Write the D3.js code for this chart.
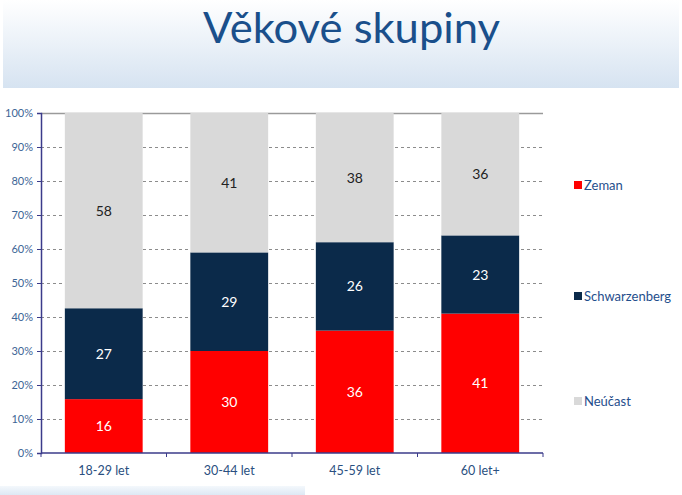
<!DOCTYPE html>
<html><head><meta charset="utf-8">
<script src="https://cdn.jsdelivr.net/npm/d3@7"></script>
<style>body{margin:0;background:#fff}svg{display:block}</style>
</head><body>
<script>
const categories = ["18-29 let","30-44 let","45-59 let","60 let+"];
const seriesNames = ["Zeman","Schwarzenberg","Neúčast"];
const zeman = [16,30,36,41];
const schwarzenberg = [27,29,26,23];
const neucast = [58,41,38,36];
const yTicks = [0,10,20,30,40,50,60,70,80,90,100];
const colors = ["#ff0000","#0b2a4a","#d9d9d9"];
const labelColors = ["#ffffff","#ffffff","#222222"];

const W=682,H=495;
const svg=d3.select("body").append("svg").attr("width",W).attr("height",H);
const defs=svg.append("defs");
const g1=defs.append("linearGradient").attr("id","tg").attr("x1",0).attr("y1",0).attr("x2",0).attr("y2",1);
g1.append("stop").attr("offset","0%").attr("stop-color","#ffffff");
g1.append("stop").attr("offset","100%").attr("stop-color","#d6e3f1");
svg.append("rect").attr("x",3).attr("y",0).attr("width",676).attr("height",88).attr("fill","url(#tg)");
const g2=defs.append("linearGradient").attr("id","bg").attr("x1",0).attr("y1",0).attr("x2",0).attr("y2",1);
g2.append("stop").attr("offset","0%").attr("stop-color","#f4f8fc");
g2.append("stop").attr("offset","100%").attr("stop-color","#dde8f4");
svg.append("rect").attr("x",0).attr("y",486).attr("width",305).attr("height",9).attr("fill","url(#bg)");

svg.append("text").attr("x",203).attr("y",43)
 .attr("font-family","Lato, 'Open Sans', sans-serif").attr("font-size",42).attr("fill","#1a4f8b")
 .attr("textLength",297).attr("lengthAdjust","spacingAndGlyphs")
 .text("Věkové skupiny");

const x0=41,x1=543,yTop=113,yBot=453;
const x=d3.scaleBand().domain(categories).range([x0,x1]).paddingInner(0.38).paddingOuter(0.19);
const y=d3.scaleLinear().domain([0,100]).range([yBot,yTop]);

// gridlines
svg.append("g").selectAll("line").data(yTicks.filter(t=>t>0&&t<100)).join("line")
 .attr("x1",x0).attr("x2",x1).attr("y1",d=>y(d)+0.5).attr("y2",d=>y(d)+0.5)
 .attr("stroke","#8c8c8c").attr("stroke-dasharray","3,3").attr("stroke-width",1);
svg.append("line").attr("x1",x0).attr("x2",x1).attr("y1",y(100)+0.5).attr("y2",y(100)+0.5)
 .attr("stroke","#9a9a9a").attr("stroke-width",1.5);

const rows=categories.map((c,i)=>({cat:c,Zeman:zeman[i],Schwarzenberg:schwarzenberg[i],"Neúčast":neucast[i]}));
const stack=d3.stack().keys(seriesNames).offset(d3.stackOffsetExpand);
const series=stack(rows);
series.forEach((s,si)=>{
  const gg=svg.append("g");
  gg.selectAll("rect").data(s).join("rect")
   .attr("x",d=>x(d.data.cat)).attr("width",x.bandwidth())
   .attr("y",d=>y(d[1]*100)).attr("height",d=>y(d[0]*100)-y(d[1]*100))
   .attr("fill",colors[si]);
  gg.selectAll("text").data(s).join("text")
   .attr("x",d=>x(d.data.cat)+x.bandwidth()/2)
   .attr("y",d=>(y(d[0]*100)+y(d[1]*100))/2+5)
   .attr("text-anchor","middle").attr("font-family","Lato, 'Open Sans', sans-serif")
   .attr("font-size",14).attr("fill",labelColors[si])
   .text(d=>d.data[seriesNames[si]]);
});

// y axis
const ya=svg.append("g").attr("transform",`translate(${x0},0)`)
 .call(d3.axisLeft(y).tickValues(yTicks).tickFormat(d=>d+"%").tickSize(4));
ya.select(".domain").attr("stroke","#3b3b8a").attr("stroke-width",1.5);
ya.selectAll(".tick line").attr("stroke","#3b3b8a");
ya.selectAll("text").attr("font-family","Lato, 'Open Sans', sans-serif").attr("font-size",11).attr("fill","#3d6596").attr("dx",-1);

// x axis
const xa=svg.append("g").attr("transform",`translate(0,${yBot})`);
xa.append("line").attr("x1",x0).attr("x2",x1).attr("stroke","#3b3b8a").attr("stroke-width",1.5);
const bounds=[0,1,2,3,4].map(i=>x0+(x1-x0)*i/4);
xa.selectAll(".tk").data(bounds).join("line").attr("x1",d=>d).attr("x2",d=>d).attr("y1",0).attr("y2",4).attr("stroke","#3b3b8a");
xa.selectAll("text").data(categories).join("text")
 .attr("x",d=>x(d)+x.bandwidth()/2).attr("y",22).attr("text-anchor","middle")
 .attr("font-family","Lato, 'Open Sans', sans-serif").attr("font-size",12.5).attr("fill","#2a4f80").text(d=>d);

// legend
const legY=[185,296,401];
const lg=svg.append("g");
seriesNames.forEach((n,i)=>{
  lg.append("rect").attr("x",574).attr("y",legY[i]-4).attr("width",8).attr("height",8).attr("fill",colors[i]);
  lg.append("text").attr("x",584).attr("y",legY[i]+5).attr("font-family","Lato, 'Open Sans', sans-serif")
   .attr("font-size",13).attr("fill","#1f4e8c").text(n);
});
</script>
</body></html>
